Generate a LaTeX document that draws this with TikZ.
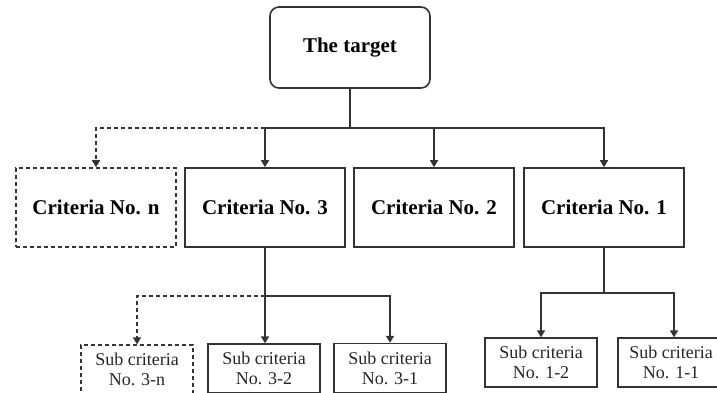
\documentclass[tikz,border=0pt]{standalone}
\usepackage{fontspec}
\setmainfont{Liberation Serif}
\usetikzlibrary{arrows.meta}
\begin{document}
\begin{tikzpicture}[x=1pt,y=-1pt,
  line/.style={draw=black!80,line width=1.6pt},
  arr/.style={line,-{Triangle[width=8pt,length=7pt]}},
  dashline/.style={dash pattern=on 4pt off 3pt},
  topbox/.style={line,rounded corners=9pt,minimum width=160pt,minimum height=81pt,inner sep=0pt,
    font=\fontsize{21}{24}\selectfont\bfseries},
  critbox/.style={line,minimum width=160pt,minimum height=79pt,inner sep=0pt,
    font=\fontsize{21}{24}\selectfont\bfseries},
  subbox/.style={line,line width=1.4pt,minimum width=112pt,minimum height=49pt,inner sep=0pt,align=center,
    font=\fontsize{18}{20}\selectfont,text=black!85}
]
\useasboundingbox (0,0) rectangle (717,392);
% top
\node[topbox] (target) at (350,47.5) {\raisebox{4pt}{The target}};
% criteria
\node[critbox,dashline] (cn) at (96,207.5) {\raisebox{1pt}{Criteria No. n}};
\node[critbox] (c3) at (265,207.5) {\raisebox{1pt}{Criteria No. 3}};
\node[critbox] (c2) at (434,207.5) {\raisebox{1pt}{Criteria No. 2}};
\node[critbox] (c1) at (604,207.5) {\raisebox{1pt}{Criteria No. 1}};
% sub criteria
\node[subbox,dashline] (s3n) at (137,369.5) {Sub criteria\\No. 3-n};
\node[subbox] (s32) at (264,368.5) {Sub criteria\\No. 3-2};
\node[subbox] (s31) at (390,368) {Sub criteria\\No. 3-1};
\node[subbox] (s12) at (541,362.5) {Sub criteria\\No. 1-2};
\node[subbox,minimum width=106pt] (s11) at (671,362.5) {Sub criteria\\No. 1-1};
% junctions
\coordinate (j1) at (350,128);
\coordinate (j2) at (265,296);
\coordinate (j3) at (604,293);
% connectors level 1
\draw[line] (target.south) -- (j1);
\draw[arr] (j1) -| (c3.north);
\draw[arr] (j1) -| (c1.north);
\draw[arr] (c2.north |- j1) -- (c2.north);
\draw[arr,dashline] (c3.north |- j1) -| (cn.north);
% connectors level 2 (criteria 3)
\draw[line] (c3.south) -- (j2);
\draw[arr] (j2) -- (s32.north -| j2);
\draw[arr] (j2) -| (s31.north);
\draw[arr,dashline] (j2) -| (s3n.north);
% connectors level 2 (criteria 1)
\draw[line] (c1.south) -- (j3);
\draw[arr] (j3) -| (s12.north);
\draw[arr] (j3) -| ([xshift=3pt]s11.north);
\end{tikzpicture}
\end{document}
